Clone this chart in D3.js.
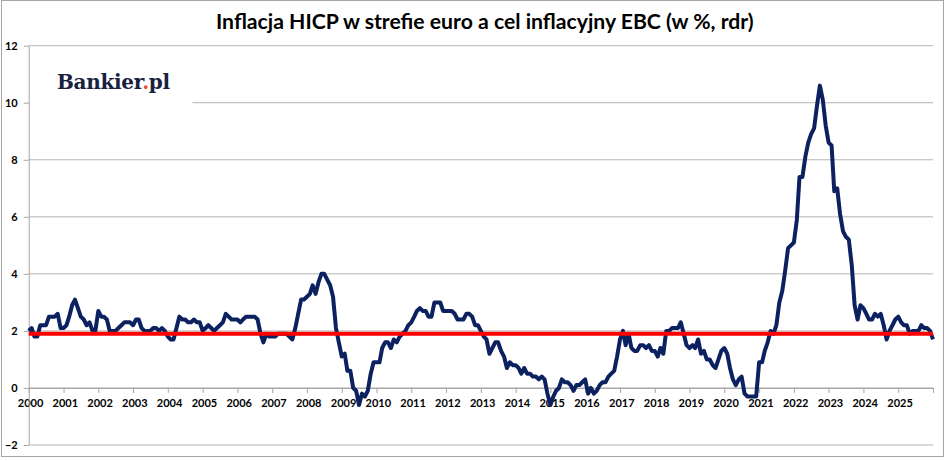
<!DOCTYPE html>
<html>
<head>
<meta charset="utf-8">
<script src="https://cdn.jsdelivr.net/npm/d3@7"></script>
<style>
body { margin: 0; background: #fff; }
.axis text { font-family: Lato, "Liberation Sans", sans-serif; font-weight: bold; font-size: 11px; fill: #000; }
.axis line, .axis path { stroke: #a6a6a6; }
</style>
</head>
<body>
<div id="drawing"></div>
<script>
"use strict"

/**** Configuration variables ****/
let svgWidth = 948
let svgHeight = 461

let plotLeft = 28.7
let plotRight = 933
let plotTop = 45.7
let plotBottom = 445

/**** DATA (monthly HICP y/y, Jan 2000 - Jan 2026) ****/

let hicp2000s = [
2.0, 2.1, 1.8, 1.8, 2.2, 2.2, 2.2, 2.5, 2.5, 2.5, 2.6, 2.1,
2.1, 2.2, 2.5, 2.9, 3.1, 2.8, 2.5, 2.4, 2.2, 2.3, 2.0, 2.0,
2.7, 2.5, 2.5, 2.4, 2.0, 2.0, 2.0, 2.1, 2.2, 2.3, 2.3, 2.3,
2.2, 2.4, 2.4, 2.1, 2.0, 2.0, 2.0, 2.1, 2.1, 2.0, 2.1, 2.0,
1.8, 1.7, 1.7, 2.1, 2.5, 2.4, 2.4, 2.3, 2.3, 2.4, 2.3, 2.3,
2.0, 2.1, 2.2, 2.1, 2.0, 2.1, 2.2, 2.3, 2.6, 2.5, 2.4, 2.4,
2.4, 2.3, 2.4, 2.5, 2.5, 2.5, 2.5, 2.4, 1.9, 1.6, 1.9, 1.8,
1.8, 1.8, 1.9, 1.9, 1.9, 1.9, 1.8, 1.7, 2.1, 2.6, 3.1, 3.1,
3.2, 3.3, 3.6, 3.3, 3.7, 4.0, 4.0, 3.8, 3.6, 3.2, 2.1, 1.6,
1.1, 1.2, 0.6, 0.6, 0.0, -0.1, -0.6, -0.2, -0.3, -0.1, 0.5, 0.9
]

let hicp2010s = [
0.9, 0.9, 1.4, 1.6, 1.6, 1.4, 1.7, 1.6, 1.8, 1.9, 2.0, 2.2,
2.3, 2.5, 2.7, 2.8, 2.7, 2.7, 2.5, 2.5, 3.0, 3.0, 3.0, 2.7,
2.7, 2.7, 2.7, 2.6, 2.4, 2.4, 2.4, 2.6, 2.6, 2.5, 2.2, 2.2,
2.0, 1.8, 1.7, 1.2, 1.4, 1.6, 1.6, 1.3, 1.1, 0.7, 0.9, 0.8,
0.8, 0.7, 0.5, 0.7, 0.5, 0.5, 0.4, 0.4, 0.3, 0.4, 0.3, -0.2,
-0.6, -0.3, -0.1, 0.0, 0.3, 0.2, 0.2, 0.1, -0.1, 0.1, 0.1, 0.2,
0.3, -0.2, 0.0, -0.2, -0.1, 0.1, 0.2, 0.2, 0.4, 0.5, 0.6, 1.1,
1.7, 2.0, 1.5, 1.9, 1.4, 1.3, 1.3, 1.5, 1.5, 1.4, 1.5, 1.3,
1.3, 1.1, 1.4, 1.2, 2.0, 2.0, 2.1, 2.1, 2.1, 2.3, 1.9, 1.5,
1.4, 1.5, 1.4, 1.7, 1.2, 1.3, 1.0, 1.0, 0.8, 0.7, 1.0, 1.3
]

let hicp2020s = [
1.4, 1.2, 0.7, 0.3, 0.1, 0.3, 0.4, -0.2, -0.3, -0.3, -0.3, -0.3,
0.9, 0.9, 1.3, 1.6, 2.0, 1.9, 2.2, 3.0, 3.4, 4.1, 4.9, 5.0,
5.1, 5.9, 7.4, 7.4, 8.1, 8.6, 8.9, 9.1, 9.9, 10.6, 10.1, 9.2,
8.6, 8.5, 6.9, 7.0, 6.1, 5.5, 5.3, 5.2, 4.3, 2.9, 2.4, 2.9,
2.8, 2.6, 2.4, 2.4, 2.6, 2.5, 2.6, 2.2, 1.7, 2.0, 2.2, 2.4,
2.5, 2.3, 2.2, 2.2, 1.9, 2.0, 2.0, 2.0, 2.2, 2.1, 2.1, 2.0,
1.7
]

let ecbTarget = 1.9

let yTicks = [-2, 0, 2, 4, 6, 8, 10, 12]
let tickYears = [2000, 2001, 2002, 2003, 2004, 2005, 2006, 2007, 2008, 2009, 2010, 2011, 2012,
2013, 2014, 2015, 2016, 2017, 2018, 2019, 2020, 2021, 2022, 2023, 2024, 2025, 2026]
let labelYears = [2000, 2001, 2002, 2003, 2004, 2005, 2006, 2007, 2008, 2009, 2010, 2011, 2012,
2013, 2014, 2015, 2016, 2017, 2018, 2019, 2020, 2021, 2022, 2023, 2024, 2025]

let titleText = "Inflacja HICP w strefie euro a cel inflacyjny EBC (w %, rdr)"

let hicp = hicp2000s.concat(hicp2010s, hicp2020s)
let dataset = hicp.map(function(v, i){
    return {date: d3.utcMonth.offset(new Date(Date.UTC(2000, 0, 1)), i), value: v}
})

/**** CANVAS SETUP ****/
let svg = d3.select("#drawing")
.append("svg")
.attr("width", svgWidth)
.attr("height", svgHeight)

svg.append("rect")
.attr("x", 0).attr("y", 0)
.attr("width", svgWidth).attr("height", svgHeight)
.attr("fill", "#fff")

/* border */
svg.append("rect")
.attr("x", 1.5)
.attr("y", 0.5)
.attr("width", 942)
.attr("height", 456)
.attr("fill", "none")
.attr("stroke", "#a6a6a6")

/**** SCALES ****/
let xScale = d3.scaleUtc()
.domain([new Date(Date.UTC(2000, 0, 1)), new Date(Date.UTC(2026, 0, 1))])
.range([plotLeft, plotRight])

let yScale = d3.scaleLinear()
.domain([-2, 12])
.range([plotBottom, plotTop])

/**** GRIDLINES ****/
svg.selectAll("line.grid")
.data(yTicks)
.join("line")
.attr("class", "grid")
.attr("x1", plotLeft)
.attr("x2", plotRight)
.attr("y1", d => yScale(d))
.attr("y2", d => yScale(d))
.attr("stroke", "#b4b4b4")
.attr("stroke-width", 1)

/**** LOGO (white box hides the grid) ****/
svg.append("rect")
.attr("x", plotLeft + 0.8)
.attr("y", 54)
.attr("width", 163)
.attr("height", 56)
.attr("fill", "#fff")

let logo = svg.append("text")
.attr("x", 57)
.attr("y", 89)
.style("font-family", "'DejaVu Serif', 'Liberation Serif', serif")
.style("font-weight", "bold")
.style("font-size", "20px")
.style("letter-spacing", "-0.3px")
.attr("fill", "#18223f")
logo.append("tspan").text("Bankier")
logo.append("tspan").attr("fill", "#f0502a").text(".")
logo.append("tspan").text("pl")

/**** AXES ****/
let xAxis = d3.axisBottom(xScale)
.tickValues(tickYears.map(y => new Date(Date.UTC(y, 0, 1))))
.tickSize(5)
.tickSizeOuter(0)
.tickPadding(6)
.tickFormat(d => labelYears.includes(d.getUTCFullYear()) ? d.getUTCFullYear() : "")

let gx = svg.append("g")
.attr("class", "axis")
.attr("transform", `translate(0,${yScale(0)})`)
.call(xAxis)
gx.selectAll("text").attr("dx", "1.3")

let yAxis = d3.axisLeft(yScale)
.tickValues(yTicks)
.tickSize(5)
.tickSizeOuter(0)
.tickPadding(6)

svg.append("g")
.attr("class", "axis")
.attr("transform", `translate(${plotLeft},0)`)
.call(yAxis)

/**** HICP LINE ****/
let line = d3.line()
.x(d => xScale(d.date))
.y(d => yScale(d.value))

svg.append("path")
.datum(dataset)
.attr("d", line)
.attr("fill", "none")
.attr("stroke", "#0b2160")
.attr("stroke-width", 4)
.attr("stroke-linejoin", "round")

/**** ECB TARGET LINE ****/
svg.append("line")
.attr("x1", xScale(dataset[0].date))
.attr("x2", xScale(dataset[dataset.length - 1].date))
.attr("y1", yScale(ecbTarget))
.attr("y2", yScale(ecbTarget))
.attr("stroke", "#ff0000")
.attr("stroke-width", 4)

/**** TITLE ****/
let title = svg.append("text")
.attr("x", 216)
.attr("y", 29)
.style("font-family", "Lato, 'Liberation Sans', sans-serif")
.style("font-weight", "bold")
.style("font-size", "20px")
.attr("fill", "#000")
.text(titleText)

let titleW = title.node().getComputedTextLength()
title.style("font-size", (20 * 538 / titleW).toFixed(2) + "px")
</script>
</body>
</html>
